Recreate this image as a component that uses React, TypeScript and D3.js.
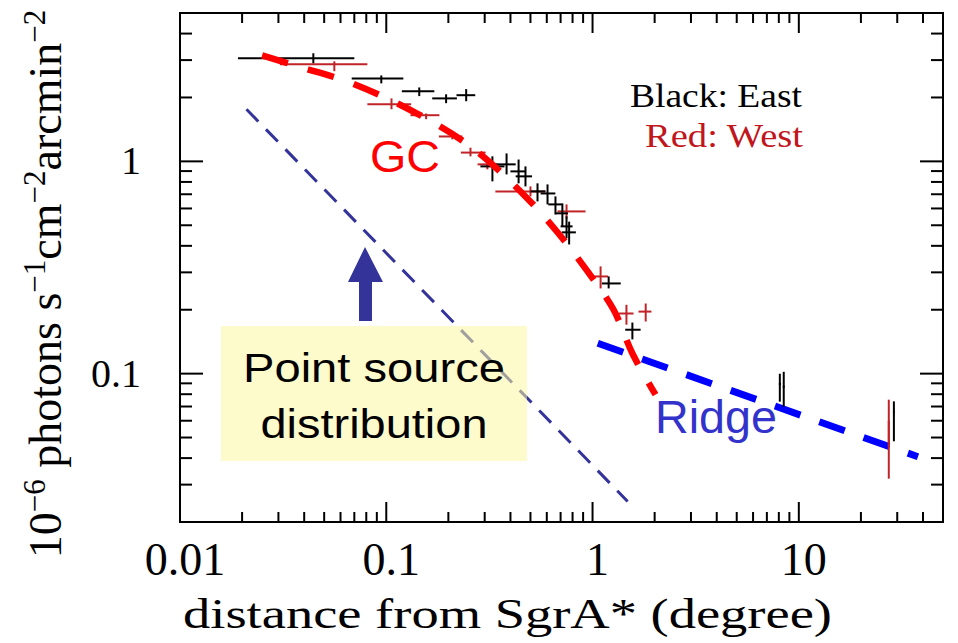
import React, { useEffect, useRef } from 'react';
import * as d3 from 'd3';

// East (black) profile: centre, x-range (bin), y error
const eastX = [0.0443, 0.0946, 0.1445, 0.195, 0.244, 0.327, 0.383, 0.438, 0.473, 0.541, 0.605, 0.661, 0.714, 0.748, 0.77, 1.197, 1.56, 8.09, 8.45, 28.9];
const eastXLo = [0.0191, 0.068, 0.119, 0.167, 0.219, 0.286, 0.338, 0.4, 0.424, 0.5, 0.56, 0.61, 0.66, 0.7, 0.71, 1.11, 1.44, 8.0, 8.36, 28.6];
const eastXHi = [0.07, 0.121, 0.171, 0.22, 0.27, 0.374, 0.424, 0.474, 0.509, 0.591, 0.66, 0.71, 0.76, 0.8, 0.83, 1.37, 1.71, 8.2, 8.55, 29.2];
const eastY = [3.06, 2.46, 2.14, 1.98, 2.05, 0.947, 0.968, 0.897, 0.85, 0.722, 0.706, 0.627, 0.569, 0.494, 0.463, 0.266, 0.161, 0.0895, 0.0868, 0.066];
const eastYLo = [2.9, 2.33, 2.03, 1.88, 1.92, 0.805, 0.868, 0.788, 0.762, 0.648, 0.627, 0.562, 0.494, 0.434, 0.406, 0.252, 0.145, 0.0738, 0.0699, 0.048];
const eastYHi = [3.23, 2.54, 2.23, 2.07, 2.19, 1.056, 1.09, 1.02, 0.947, 0.788, 0.779, 0.684, 0.634, 0.551, 0.52, 0.287, 0.174, 0.0999, 0.102, 0.074];

// West (red) profile
const westX = [0.056, 0.106, 0.156, 0.209, 0.256, 0.309, 0.5, 0.748, 1.094, 1.46, 1.81, 27.3, 27.3];
const westXLo = [0.0305, 0.081, 0.131, 0.18, 0.23, 0.277, 0.338, 0.676, 1.01, 1.34, 1.67, 27.1, 27.1];
const westXHi = [0.081, 0.132, 0.181, 0.234, 0.303, 0.346, 0.591, 0.925, 1.19, 1.58, 1.93, 27.5, 27.5];
const westY = [2.87, 1.86, 1.65, 1.31, 1.1, 0.968, 0.722, 0.581, 0.287, 0.192, 0.196, 0.058, 0.045];
const westYLo = [2.66, 1.76, 1.58, 1.27, 1.056, 0.917, 0.684, 0.538, 0.252, 0.17, 0.176, 0.045, 0.032];
const westYHi = [2.96, 1.98, 1.68, 1.355, 1.16, 1.02, 0.762, 0.627, 0.32, 0.211, 0.214, 0.0754, 0.06];

// GC model curve (red dashed)
const gcX = [0.025, 0.0383, 0.0684, 0.141, 0.264, 0.483, 0.684, 0.946, 1.265, 1.563, 2.02];
const gcY = [3.16, 2.78, 2.33, 1.68, 1.15, 0.669, 0.457, 0.303, 0.2, 0.124, 0.0796];

// Ridge model (blue dashed)
const ridgeX = [1.06, 37.8];
const ridgeY = [0.139, 0.0406];

// point source distribution (navy dashed)
const psX = [0.021, 1.48];
const psY = [1.76, 0.025];

const xTickLabels = ['0.01', '0.1', '1', '10'];
const xTickValues = [0.01, 0.1, 1, 10];
const yTickLabels = ['1', '0.1'];
const yTickValues = [1, 0.1];

const WIDTH = 958;
const HEIGHT = 643;

const App: React.FC = () => {
  const svgRef = useRef<SVGSVGElement>(null);

  useEffect(() => {
    if (!svgRef.current) return;
    const svg = d3.select(svgRef.current);
    svg.selectAll('*').remove();

    const left = 180, right = 943, top = 13, bottom = 522;
    const serif = '"Times New Roman", "Liberation Serif", Times, serif';
    const sans = '"Liberation Sans", Arial, sans-serif';

    const x = d3.scaleLog().domain([0.01, 50]).range([left, right]);
    const y = d3.scaleLog().domain([0.02, 5]).range([bottom, top]);

    svg.append('rect').attr('width', WIDTH).attr('height', HEIGHT).attr('fill', '#ffffff');

    // point source line
    const lineGen = d3.line<[number, number]>().x(d => x(d[0])).y(d => y(d[1]));
    svg.append('path')
      .attr('d', lineGen(psX.map((v, i) => [v, psY[i]] as [number, number])))
      .attr('fill', 'none')
      .attr('stroke', '#333399')
      .attr('stroke-width', 3)
      .attr('stroke-dasharray', '17,11');

    // yellow note box (semi-transparent)
    svg.append('rect')
      .attr('x', 221).attr('y', 326).attr('width', 306).attr('height', 135)
      .attr('fill', 'rgb(251,248,160)')
      .attr('opacity', 0.55);

    svg.append('text')
      .attr('x', 374).attr('y', 382)
      .attr('text-anchor', 'middle')
      .attr('font-family', sans).attr('font-size', 41)
      .attr('textLength', 262).attr('lengthAdjust', 'spacingAndGlyphs')
      .attr('fill', '#000')
      .text('Point source');
    svg.append('text')
      .attr('x', 374).attr('y', 438)
      .attr('text-anchor', 'middle')
      .attr('font-family', sans).attr('font-size', 41)
      .attr('textLength', 227).attr('lengthAdjust', 'spacingAndGlyphs')
      .attr('fill', '#000')
      .text('distribution');

    // arrow
    svg.append('path')
      .attr('d', 'M365,247 L383,282 L372,282 L372,321 L359,321 L359,282 L348,282 Z')
      .attr('fill', '#333399');

    // ridge
    svg.append('path')
      .attr('d', lineGen(ridgeX.map((v, i) => [v, ridgeY[i]] as [number, number])))
      .attr('fill', 'none')
      .attr('stroke', '#0000ff')
      .attr('stroke-width', 7)
      .attr('stroke-dasharray', '27,20');

    // data crosses
    const drawSeries = (xs: number[], xlo: number[], xhi: number[], ys: number[], ylo: number[], yhi: number[], color: string) => {
      const g = svg.append('g').attr('stroke', color).attr('stroke-width', 2);
      xs.forEach((xv, i) => {
        g.append('line')
          .attr('x1', x(xlo[i])).attr('x2', x(xhi[i]))
          .attr('y1', y(ys[i])).attr('y2', y(ys[i]));
        g.append('line')
          .attr('x1', x(xv)).attr('x2', x(xv))
          .attr('y1', y(ylo[i])).attr('y2', y(yhi[i]));
      });
    };
    drawSeries(westX, westXLo, westXHi, westY, westYLo, westYHi, '#c02428');
    drawSeries(eastX, eastXLo, eastXHi, eastY, eastYLo, eastYHi, '#000000');

    // GC curve
    const curveGen = d3.line<[number, number]>()
      .x(d => x(d[0])).y(d => y(d[1]))
      .curve(d3.curveCatmullRom);
    svg.append('path')
      .attr('d', curveGen(gcX.map((v, i) => [v, gcY[i]] as [number, number])))
      .attr('fill', 'none')
      .attr('stroke', '#ff0000')
      .attr('stroke-width', 6.5)
      .attr('stroke-dasharray', '27,21');

    // frame
    svg.append('rect')
      .attr('x', left).attr('y', top)
      .attr('width', right - left).attr('height', bottom - top)
      .attr('fill', 'none').attr('stroke', '#000').attr('stroke-width', 2);

    const isMajor = (v: number) => Math.abs(Math.log10(v) - Math.round(Math.log10(v))) < 1e-6;
    const ticksG = svg.append('g').attr('stroke', '#000').attr('stroke-width', 2);
    x.ticks().forEach(v => {
      const px = x(v);
      if (px <= left + 1 || px >= right - 1) return;
      const len = isMajor(v) ? 20 : 10;
      ticksG.append('line').attr('x1', px).attr('x2', px).attr('y1', bottom).attr('y2', bottom - len);
      ticksG.append('line').attr('x1', px).attr('x2', px).attr('y1', top).attr('y2', top + len);
    });
    y.ticks().forEach(v => {
      const py = y(v);
      if (py <= top + 1 || py >= bottom - 1) return;
      const len = isMajor(v) ? 23 : 12;
      ticksG.append('line').attr('x1', left).attr('x2', left + len).attr('y1', py).attr('y2', py);
      ticksG.append('line').attr('x1', right).attr('x2', right - len).attr('y1', py).attr('y2', py);
    });

    // tick labels
    xTickValues.forEach((v, i) => {
      svg.append('text')
        .attr('x', x(v) + 5).attr('y', 575)
        .attr('text-anchor', 'middle')
        .attr('font-family', serif).attr('font-size', 46)
        .attr('fill', '#000')
        .text(xTickLabels[i]);
    });
    yTickValues.forEach((v, i) => {
      svg.append('text')
        .attr('x', 141).attr('y', y(v) + 13)
        .attr('text-anchor', 'end')
        .attr('font-family', serif).attr('font-size', 40)
        .attr('fill', '#000')
        .text(yTickLabels[i]);
    });

    // axis titles
    svg.append('text')
      .attr('x', 183).attr('y', 628)
      .attr('font-family', serif).attr('font-size', 42)
      .attr('textLength', 649).attr('lengthAdjust', 'spacingAndGlyphs')
      .attr('fill', '#000')
      .text('distance from SgrA* (degree)');

    const yl = svg.append('text')
      .attr('transform', 'translate(61,284) rotate(-90)')
      .attr('text-anchor', 'middle')
      .attr('font-family', serif).attr('font-size', 46)
      .attr('fill', '#000');
    const parts: [string, boolean][] = [
      ['10', false], ['\u22126', true], [' photons s', false], ['\u22121', true],
      ['cm', false], ['\u22122', true], ['arcmin', false], ['\u22122', true],
    ];
    let prevSup = false;
    parts.forEach(([t, sup]) => {
      const dy = sup === prevSup ? 0 : (sup ? -16 : 16);
      yl.append('tspan')
        .attr('dy', dy)
        .attr('font-size', sup ? 31 : 46)
        .text(t);
      prevSup = sup;
    });

    // annotations
    svg.append('text')
      .attr('x', 630).attr('y', 107)
      .attr('font-family', serif).attr('font-size', 33)
      .attr('textLength', 172).attr('lengthAdjust', 'spacingAndGlyphs')
      .attr('fill', '#000')
      .text('Black: East');
    svg.append('text')
      .attr('x', 645).attr('y', 147)
      .attr('font-family', serif).attr('font-size', 33)
      .attr('textLength', 158).attr('lengthAdjust', 'spacingAndGlyphs')
      .attr('fill', '#c0161c')
      .text('Red: West');
    svg.append('text')
      .attr('x', 370).attr('y', 172)
      .attr('font-family', sans).attr('font-size', 45)
      .attr('textLength', 70).attr('lengthAdjust', 'spacingAndGlyphs')
      .attr('fill', '#ff0000')
      .text('GC');
    svg.append('text')
      .attr('x', 655).attr('y', 433)
      .attr('font-family', sans).attr('font-size', 46)
      .attr('textLength', 122).attr('lengthAdjust', 'spacingAndGlyphs')
      .attr('fill', '#3333cc')
      .text('Ridge');
  }, []);

  return (
    <div style={{ position: 'absolute', left: 0, top: 0 }}>
      <svg ref={svgRef} width={WIDTH} height={HEIGHT} style={{ display: 'block' }} />
    </div>
  );
};

export default App;
